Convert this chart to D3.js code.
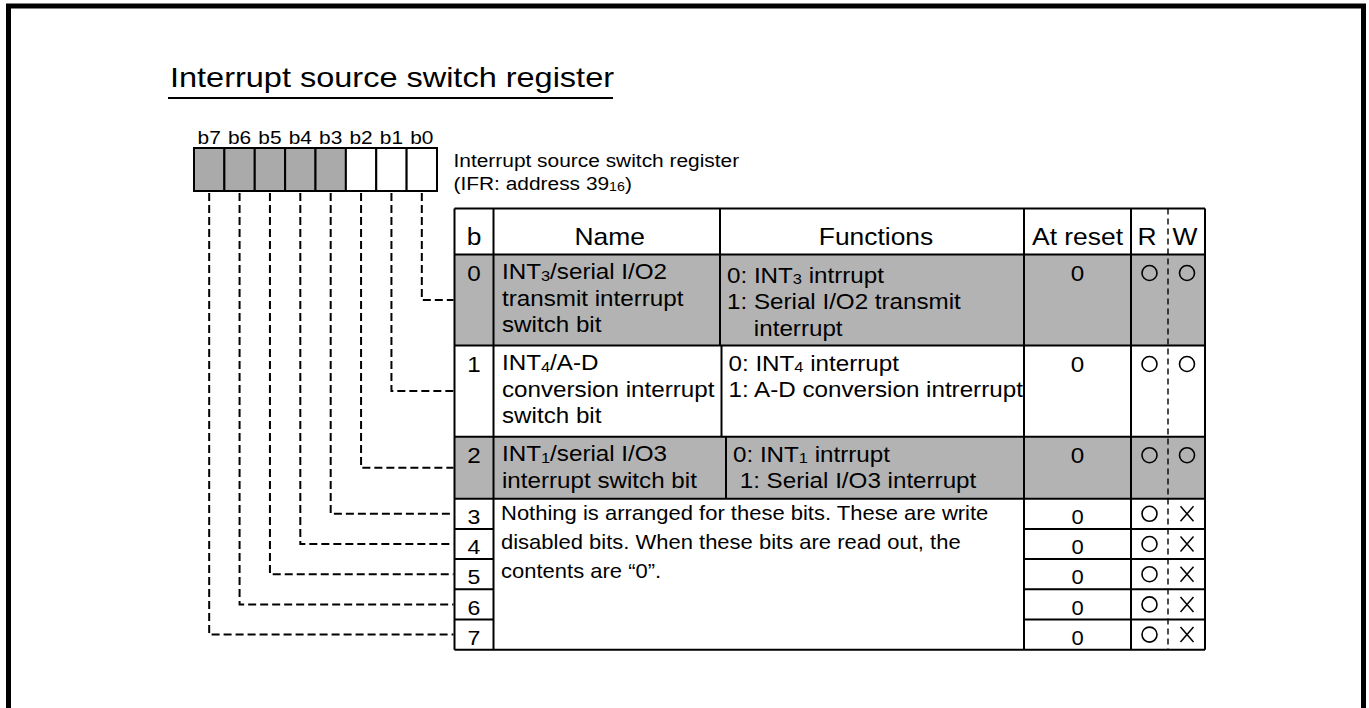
<!DOCTYPE html>
<html><head><meta charset="utf-8">
<script src="https://cdn.jsdelivr.net/npm/d3@7"></script>
<style>
html,body{margin:0;padding:0;background:#fff;overflow:hidden;}
svg text{font-family:"Liberation Sans", Arial, Helvetica, sans-serif; fill:#000;}
</style></head><body>
<svg id="c" width="1369" height="708"></svg>
<script>
// ---------------- data ----------------
const titleText = "Interrupt source switch register";
const registerLines = ["Interrupt source switch register", "(IFR: address 39{16})"];
const bitLabels = ["b7","b6","b5","b4","b3","b2","b1","b0"];
const bitShaded = [true,true,true,true,true,false,false,false];
const headers = ["b","Name","Functions","At reset","R","W"];
const bitNumbers = [0,1,2,3,4,5,6,7];
const bitNames = [
  ["INT{3}/serial I/O2","transmit interrupt","switch bit"],
  ["INT{4}/A-D","conversion interrupt","switch bit"],
  ["INT{1}/serial I/O3","interrupt switch bit"]
];
const bitFunctions = [
  ["0: INT{3} intrrupt","1: Serial I/O2 transmit","    interrupt"],
  ["0: INT{4} interrupt","1: A-D conversion intrerrupt"],
  ["0: INT{1} intrrupt"," 1: Serial I/O3 interrupt"]
];
const reservedNote = [
  "Nothing is arranged for these bits. These are write",
  "disabled bits. When these bits are read out, the",
  "contents are \u201C0\u201D."
];
const resetValues = ["0","0","0","0","0","0","0","0"];
const readable = [true,true,true,true,true,true,true,true];
const writable = [true,true,true,false,false,false,false,false];
const rowShaded = [true,false,true,false,false,false,false,false];

// ---------------- layout ----------------
const SX = 1.1;
const svg = d3.select("#c");
const REG = {x0:194, x1:437, y0:148, y1:191};
const TBL = {x0:454.5, x1:1205, top:208.5, head:254.5};
const COL = {b:493.5, reset:1024, r:1131, w:1168};
const nameDivHeader = 720;
const nameDiv = [720, 721.5, 726];
const funcDy = [3, 0, 0];
const rowEdges = [254.5, 345.5, 436.7, 498.7, 528.9, 559.1, 589.3, 619.5, 649.7];
const GRAY_CELL = "#aaaaaa", GRAY_ROW = "#b3b3b3";

function richText(parent, x, y, str, size, anchor, sx) {
  const t = parent.append("text")
    .attr("transform", `translate(${x},${y}) scale(${sx || SX},1)`)
    .attr("font-size", size)
    .attr("text-anchor", anchor || "start")
    .attr("xml:space", "preserve")
    .style("white-space", "pre");
  const parts = str.split(/(\{[^}]*\})/).filter(s => s.length);
  let shift = 0;
  parts.forEach(p => {
    if (p.startsWith("{")) {
      const d = size * 0.08;
      t.append("tspan").attr("font-size", size * 0.68).attr("dy", d - shift).text(p.slice(1, -1));
      shift = d;
    } else {
      t.append("tspan").attr("dy", -shift).text(p);
      shift = 0;
    }
  });
  return t;
}

// outer frame
svg.append("rect").attr("x",8.5).attr("y",6).attr("width",1355).attr("height",1000)
  .attr("fill","none").attr("stroke","#000").attr("stroke-width",5);

// title
richText(svg, 170, 87, titleText, 28.5, "start", 1.14);
svg.append("line").attr("x1",168).attr("x2",613).attr("y1",98).attr("y2",98)
  .attr("stroke","#000").attr("stroke-width",2);

// register boxes
const xb = d3.scaleBand().domain(bitLabels).range([REG.x0, REG.x1]);
const regG = svg.append("g");
regG.selectAll("rect").data(bitLabels).join("rect")
  .attr("x", d => xb(d)).attr("y", REG.y0)
  .attr("width", xb.bandwidth()).attr("height", REG.y1 - REG.y0)
  .attr("fill", (d,i) => bitShaded[i] ? GRAY_CELL : "#fff")
  .attr("stroke","#000").attr("stroke-width",2);
bitLabels.forEach(d => richText(regG, xb(d) + xb.bandwidth()/2, 144, d, 19, "middle"));

// register description
registerLines.forEach((s,i) => richText(svg, 453.5, 167 + i*22.5, s, 19, "start"));

// row geometry
const rowTop = i => rowEdges[i], rowBot = i => rowEdges[i+1];
const rowMid = i => (rowEdges[i] + rowEdges[i+1]) / 2;

// table backgrounds
const tbl = svg.append("g");
tbl.selectAll("rect.row").data(bitNumbers).join("rect").attr("class","row")
  .attr("x", TBL.x0).attr("y", i => rowTop(i))
  .attr("width", TBL.x1 - TBL.x0).attr("height", i => rowBot(i) - rowTop(i))
  .attr("fill", i => rowShaded[i] ? GRAY_ROW : "#fff");

const ln = (x1,y1,x2,y2,w) => tbl.append("line").attr("x1",x1).attr("y1",y1).attr("x2",x2).attr("y2",y2)
  .attr("stroke","#000").attr("stroke-width", w || 2);

// header
const headCenters = [(TBL.x0+COL.b)/2, (COL.b+nameDivHeader)/2 + 3, (nameDivHeader+COL.reset)/2 + 4, (COL.reset+COL.r)/2, 1147, 1185];
headers.forEach((h,i) => richText(tbl, headCenters[i], 244.5, h, 24, "middle"));

// horizontal lines
ln(TBL.x0, TBL.top, TBL.x1, TBL.top);
ln(TBL.x0, TBL.head, TBL.x1, TBL.head);
[1,2,3].forEach(i => ln(TBL.x0, rowEdges[i], TBL.x1, rowEdges[i]));
[4,5,6,7].forEach(i => { ln(TBL.x0, rowEdges[i], COL.b, rowEdges[i]); ln(COL.reset, rowEdges[i], TBL.x1, rowEdges[i]); });
ln(TBL.x0, rowEdges[8], TBL.x1, rowEdges[8]);
// vertical lines
ln(TBL.x0, TBL.top, TBL.x0, rowEdges[8]);
ln(COL.b, TBL.top, COL.b, rowEdges[8]);
ln(nameDivHeader, TBL.top, nameDivHeader, TBL.head);
nameDiv.forEach((x,i) => ln(x, rowTop(i), x, rowBot(i)));
ln(COL.reset, TBL.top, COL.reset, rowEdges[8]);
ln(COL.r, TBL.top, COL.r, rowEdges[8]);
ln(TBL.x1, TBL.top, TBL.x1, rowEdges[8]);
tbl.append("line").attr("x1",COL.w).attr("x2",COL.w).attr("y1",TBL.top).attr("y2",rowEdges[8])
  .attr("stroke","#000").attr("stroke-width",1.4).attr("stroke-dasharray","6,4");

// row contents
const LH = 26.5;
bitNumbers.forEach(i => {
  const big = i < 3;
  const base = big ? rowTop(i) + 26 : rowBot(i) - 5;
  richText(tbl, (TBL.x0+COL.b)/2, base, String(i), big ? 22 : 21, "middle");
  richText(tbl, (COL.reset+COL.r)/2, base, resetValues[i], big ? 22 : 20, "middle");
  const cy = big ? rowTop(i) + 18.5 : rowMid(i);
  if (readable[i]) tbl.append("circle").attr("cx",1149.5).attr("cy",cy).attr("r",7.5)
    .attr("fill","none").attr("stroke","#000").attr("stroke-width",1.6);
  if (writable[i]) tbl.append("circle").attr("cx",1187).attr("cy",cy).attr("r",7.5)
    .attr("fill","none").attr("stroke","#000").attr("stroke-width",1.6);
  else {
    tbl.append("path").attr("d", `M${1187-6.5},${cy-7.5}L${1187+6.5},${cy+7.5}M${1187+6.5},${cy-7.5}L${1187-6.5},${cy+7.5}`)
      .attr("stroke","#000").attr("stroke-width",1.5).attr("fill","none");
  }
});
bitNames.forEach((lines,i) => lines.forEach((s,k) => richText(tbl, 502, rowTop(i) + 24.5 + k*LH, s, 22, "start")));
bitFunctions.forEach((lines,i) => lines.forEach((s,k) => richText(tbl, nameDiv[i] + 7, rowTop(i) + 25 + funcDy[i] + k*LH, s, 22, "start")));
reservedNote.forEach((s,k) => richText(tbl, 501, rowBot(3) - 9 + k*29, s, 20, "start"));

// leader lines
const lead = svg.append("g").attr("fill","none").attr("stroke","#000").attr("stroke-width",2).attr("stroke-dasharray","8,4");
bitNumbers.forEach(i => {
  const bx = xb("b" + i) + xb.bandwidth()/2;
  const yy = rowMid(i);
  lead.append("path").attr("d", `M${bx},${REG.y1 + 2}V${yy}H${TBL.x0 - 1}`);
});
</script>
</body></html>
